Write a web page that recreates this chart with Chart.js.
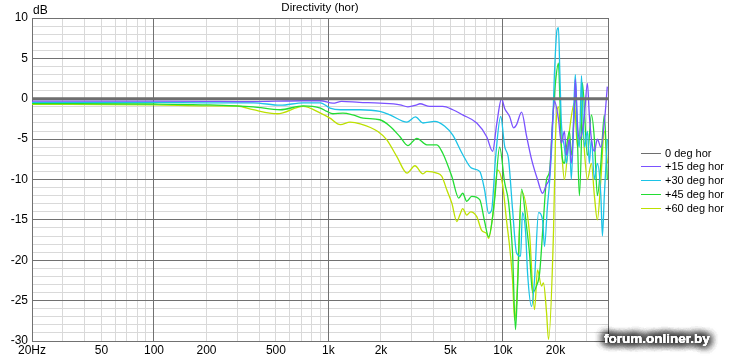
<!DOCTYPE html>
<html><head><meta charset="utf-8">
<script src="https://cdn.jsdelivr.net/npm/chart.js@4.4.1/dist/chart.umd.min.js"></script>
<style>html,body{margin:0;padding:0;background:#fff;}#wrap{width:732px;height:360px;position:relative;}</style>
</head><body><div id="wrap"><canvas id="c" width="732" height="360"></canvas></div>
<script>
const seriesNames = ['0 deg hor', '+15 deg hor', '+30 deg hor', '+45 deg hor', '+60 deg hor'];
const seriesColors = ['#6e6e6e', '#7a52ff', '#1cc3e6', '#22dd33', '#bde000'];

const freq0 = [20, 40000];
const db0 = [0, 0];

const freq15 = [20, 100, 200, 300, 500, 700, 900, 1060, 1190, 1500, 1970, 2570, 2850, 3210, 3340, 3810, 4520, 5160, 5880, 7080, 8070, 8730, 9200, 9820, 10230, 10920, 11510, 11970, 12790, 13650, 14590, 15780, 16870, 17780, 18490, 19230, 19720, 20800, 21620, 22500, 23120, 24040, 24660, 25680, 26000, 26720, 27420, 28520, 29320, 30480, 31260, 32140, 33420, 34760, 36400, 38100, 39640];
const db15 = [-0.3, -0.3, -0.32, -0.35, -0.3, -0.25, -0.25, -0.55, -0.33, -0.45, -0.55, -0.75, -1.0, -0.75, -0.62, -0.95, -0.95, -1.36, -2.0, -3.0, -4.7, -6.5, -3.2, 0, -1.2, -2.2, -3.6, -3.2, -1.65, -4.6, -7.5, -10, -11.7, -10.6, -9.6, -3, -0.3, -2.5, -5.5, -4, -7, -5, -8, -1, 2.4, -3, -5, -4, -2, 1.9, -2, -5, -6.5, -5, -6, -3, 1.5];

const freq30 = [20, 100, 200, 370, 530, 716, 900, 1020, 1170, 1520, 1970, 2250, 2820, 3150, 3480, 4070, 4640, 5160, 5880, 6620, 7360, 7850, 8280, 8610, 9080, 9710, 10230, 10770, 11350, 11970, 12620, 12940, 13490, 13840, 14590, 15170, 16000, 16870, 17300, 17990, 18490, 19230, 19720, 20400, 20800, 21200, 21620, 22500, 23120, 24040, 24660, 25680, 26000, 26720, 27420, 28180, 28520, 29320, 30480, 31260, 32140, 33420, 34760, 36400, 37160, 38100, 39640];
const db30 = [-0.45, -0.45, -0.5, -0.5, -0.8, -0.5, -0.5, -1.15, -1.36, -1.36, -1.57, -2.0, -2.9, -2.25, -3.0, -2.8, -3.4, -4.5, -6.9, -8.6, -9.0, -11.3, -14.2, -13.8, -7.2, -2.2, -5.9, -7.5, -13.7, -19.1, -19.5, -14.1, -16.6, -21.6, -25.7, -22.4, -14.1, -15.0, -18.3, -13.3, -10.4, -4, 3, 8.5, 8.8, 3, -3, -6, -8, -5, -10, 1, 3.0, -4, -6, 2.85, 0, -6, -4, -8, -5, -10, -8, -12, -17, -12, -5];

const freq45 = [20, 100, 200, 370, 530, 716, 900, 980, 1060, 1210, 1380, 1580, 1970, 2250, 2570, 2850, 3210, 3660, 4180, 4520, 5090, 5580, 5880, 6200, 6620, 7360, 7850, 8280, 8960, 9570, 10230, 10770, 11350, 11800, 12130, 12790, 13650, 14190, 14790, 15560, 16220, 17060, 17780, 18490, 19230, 20000, 20800, 21200, 21620, 22500, 23120, 24040, 24660, 25680, 26000, 26720, 27420, 28180, 28520, 30480, 32140, 33420, 34760, 36400, 38100, 39640];
const db45 = [-0.6, -0.65, -0.75, -1.0, -1.36, -0.87, -1.15, -1.57, -1.86, -1.78, -2.0, -2.4, -2.6, -3.4, -4.7, -5.8, -4.9, -5.7, -5.7, -6.75, -9.6, -12.3, -11.7, -12.7, -12.1, -12.5, -15.2, -17.1, -12.5, -6.0, -10.4, -12.8, -19.1, -28.6, -23.2, -11.2, -15.8, -19.1, -24.0, -23.2, -21.6, -15, -10, -9, -3, 2, 4.4, 0, -6, -8, -6, -4, -7, -1, 1, -5, -12, -5, 2, -7, -2, -5, -12, -8, -2, -10];

const freq60 = [20, 100, 200, 300, 370, 510, 716, 900, 1020, 1170, 1330, 1520, 1920, 2160, 2470, 2820, 3130, 3480, 3660, 4180, 4460, 4770, 5090, 5440, 5660, 5880, 6200, 6530, 7080, 7550, 8070, 8280, 8730, 9330, 9950, 10500, 10920, 11350, 11670, 11970, 12790, 14190, 15170, 15780, 16640, 17060, 17780, 18240, 19500, 20000, 20800, 21620, 22500, 24040, 25680, 26720, 28180, 30480, 32140, 33420, 34760, 36400, 38100, 39640];
const db60 = [-0.7, -0.75, -0.87, -0.9, -1.36, -1.86, -0.95, -1.78, -2.4, -3.2, -2.9, -3.1, -4.05, -5.1, -7.2, -9.2, -8.3, -9.3, -9.0, -9.2, -9.6, -11.3, -12.9, -15.2, -14.4, -13.6, -14.4, -14.0, -14.6, -16.3, -16.7, -17.3, -14.6, -8.8, -10.6, -15.2, -18.3, -22.4, -27.4, -25.3, -11.5, -16.6, -26.1, -21.2, -23.2, -22.8, -26.5, -29.8, -16.3, -5, -1, -6, -10, -4, -0.5, -6, -3, -10, -8, -12, -15, -10, -4, -8];

const xGridValues = [20, 30, 40, 50, 60, 70, 80, 90, 100, 200, 300, 400, 500, 600, 700, 800, 900, 1000, 2000, 3000, 4000, 5000, 6000, 7000, 8000, 9000, 10000, 20000, 30000, 40000];
const xMajorValues = [20, 100, 1000, 10000, 40000];
const xLabelValues = [20, 50, 100, 200, 500, 1000, 2000, 5000, 10000, 20000];
const xLabelTexts = ['20Hz', '50', '100', '200', '500', '1k', '2k', '5k', '10k', '20k'];
const yMin = -30, yMax = 10;
const yLabelValues = [10, 5, 0, -5, -10, -15, -20, -25, -30];

const GRID_DARK = '#717171', GRID_LIGHT = '#d9d9d9';
const FONT = "'Liberation Sans', Arial, sans-serif";

function toPoints(fs, ds) { return fs.map((f, i) => ({ x: f, y: ds[i] })); }
const freqs = [freq0, freq15, freq30, freq45, freq60];
const dbs = [db0, db15, db30, db45, db60];

const datasets = seriesNames.map((name, i) => ({
  label: name,
  data: toPoints(freqs[i], dbs[i]),
  borderColor: seriesColors[i],
  borderWidth: i === 0 ? 3 : 1.3,
  pointRadius: 0,
  fill: false,
  cubicInterpolationMode: 'monotone'
}));

// re-stroke the major grid lines so light lines do not cut through them
const majorGrid = {
  id: 'majorGrid',
  beforeDatasetsDraw(chart) {
    const ctx = chart.ctx, a = chart.chartArea, xs = chart.scales.x, ys = chart.scales.y;
    const al = p => Math.round(p + 0.5) - 0.5;
    ctx.save();
    ctx.strokeStyle = GRID_DARK; ctx.lineWidth = 1;
    ctx.beginPath();
    xMajorValues.forEach(v => { const p = al(xs.getPixelForValue(v)); ctx.moveTo(p, a.top); ctx.lineTo(p, a.bottom); });
    yLabelValues.forEach(v => { const p = al(ys.getPixelForValue(v)); ctx.moveTo(a.left, p); ctx.lineTo(a.right, p); });
    ctx.stroke();
    ctx.restore();
  }
};

const overlay = {
  id: 'overlay',
  afterDraw(chart) {
    const ctx = chart.ctx, a = chart.chartArea;
    ctx.save();
    ctx.fillStyle = '#000';
    ctx.font = '11.5px ' + FONT;
    ctx.textAlign = 'center'; ctx.textBaseline = 'middle';
    ctx.fillText('Directivity (hor)', (a.left + a.right) / 2, 8);
    ctx.font = '12px ' + FONT;
    ctx.textAlign = 'left';
    ctx.fillText('dB', 33, 11);
    // legend
    ctx.font = '11px ' + FONT;
    seriesNames.forEach((n, i) => {
      const y = Math.round(152.5 + i * 13.9) + 0.5;
      ctx.strokeStyle = seriesColors[i];
      ctx.lineWidth = 1;
      ctx.beginPath(); ctx.moveTo(641, y); ctx.lineTo(661, y); ctx.stroke();
      ctx.fillStyle = '#000';
      ctx.fillText(n, 665, y);
    });
    // watermark
    ctx.font = 'bold 13.5px ' + FONT;
    ctx.textAlign = 'left'; ctx.textBaseline = 'alphabetic';
    ctx.shadowColor = 'rgba(0,0,0,0.8)';
    ctx.shadowBlur = 10;
    ctx.fillStyle = '#fff';
    for (let k = 0; k < 7; k++) ctx.fillText('forum.onliner.by', 604, 343);
    ctx.shadowBlur = 0;
    ctx.fillText('forum.onliner.by', 604, 343);
    ctx.restore();
  }
};

new Chart(document.getElementById('c'), {
  type: 'line',
  data: { datasets },
  options: {
    responsive: false,
    devicePixelRatio: 1,
    animation: false,
    layout: { padding: { left: 0, top: 18, right: 124, bottom: 0 } },
    plugins: { legend: { display: false }, title: { display: false }, tooltip: { enabled: false } },
    scales: {
      x: {
        type: 'logarithmic',
        min: 20, max: 40000,
        afterFit(s) { s.height = 19; },
        afterBuildTicks(s) { s.ticks = xGridValues.map(v => ({ value: v })); },
        ticks: {
          autoSkip: false, maxRotation: 0, padding: 2,
          color: '#000', font: { family: FONT, size: 12 },
          callback(v) { const k = xLabelValues.indexOf(v); return k >= 0 ? xLabelTexts[k] : ''; }
        },
        grid: {
          drawTicks: false,
          color(c) { return c.tick && xMajorValues.includes(c.tick.value) ? GRID_DARK : GRID_LIGHT; }
        },
        border: { display: true, color: GRID_DARK }
      },
      y: {
        type: 'linear',
        min: yMin, max: yMax,
        afterFit(s) { s.width = 32; },
        afterBuildTicks(s) { const t = []; for (let v = yMax; v >= yMin; v--) t.push({ value: v }); s.ticks = t; },
        ticks: {
          autoSkip: false, padding: 4,
          color: '#000', font: { family: FONT, size: 12 },
          callback(v) { return yLabelValues.includes(v) ? String(v) : ''; }
        },
        grid: {
          drawTicks: false,
          color(c) { return c.tick && yLabelValues.includes(c.tick.value) ? GRID_DARK : GRID_LIGHT; }
        },
        border: { display: true, color: GRID_DARK }
      }
    }
  },
  plugins: [majorGrid, overlay]
});
</script>
</body></html>
